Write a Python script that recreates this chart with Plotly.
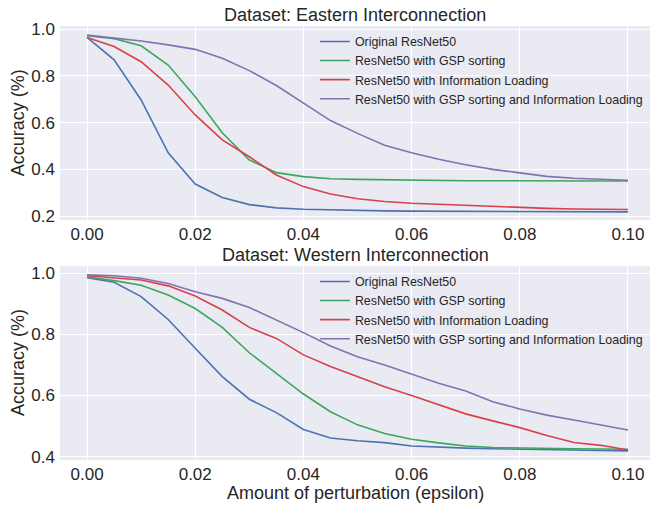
import plotly.graph_objects as go
from plotly.subplots import make_subplots

eps = [0.000, 0.005, 0.010, 0.015, 0.020, 0.025, 0.030, 0.035, 0.040, 0.045, 0.050,
       0.055, 0.060, 0.065, 0.070, 0.075, 0.080, 0.085, 0.090, 0.095, 0.100]

series_names = ["Original ResNet50", "ResNet50 with GSP sorting",
                "ResNet50 with Information Loading",
                "ResNet50 with GSP sorting and Information Loading"]

# Eastern Interconnection
east_original = [0.965, 0.869, 0.697, 0.471, 0.337, 0.279, 0.249, 0.235, 0.229, 0.226, 0.224,
                 0.222, 0.221, 0.221, 0.220, 0.220, 0.219, 0.219, 0.219, 0.218, 0.218]
east_gsp = [0.972, 0.960, 0.929, 0.847, 0.711, 0.557, 0.440, 0.386, 0.369, 0.360, 0.357,
            0.355, 0.353, 0.352, 0.351, 0.351, 0.350, 0.350, 0.350, 0.350, 0.350]
east_info = [0.965, 0.926, 0.861, 0.761, 0.633, 0.526, 0.454, 0.376, 0.326, 0.294, 0.274,
             0.262, 0.255, 0.250, 0.245, 0.240, 0.236, 0.233, 0.230, 0.229, 0.228]
east_both = [0.975, 0.963, 0.950, 0.933, 0.914, 0.876, 0.823, 0.759, 0.683, 0.609, 0.554,
             0.503, 0.471, 0.443, 0.420, 0.400, 0.385, 0.370, 0.362, 0.357, 0.353]

# Western Interconnection
west_original = [0.986, 0.971, 0.924, 0.849, 0.755, 0.662, 0.588, 0.544, 0.489, 0.461, 0.452,
                 0.446, 0.435, 0.431, 0.428, 0.426, 0.424, 0.422, 0.421, 0.420, 0.419]
west_gsp = [0.988, 0.976, 0.961, 0.929, 0.885, 0.823, 0.740, 0.673, 0.605, 0.547, 0.504,
            0.476, 0.457, 0.445, 0.435, 0.430, 0.428, 0.427, 0.426, 0.425, 0.424]
west_info = [0.992, 0.986, 0.978, 0.959, 0.926, 0.880, 0.823, 0.787, 0.733, 0.695, 0.662,
             0.629, 0.600, 0.569, 0.540, 0.517, 0.495, 0.469, 0.446, 0.437, 0.422]
west_both = [0.995, 0.992, 0.984, 0.967, 0.940, 0.918, 0.888, 0.847, 0.806, 0.762, 0.727,
             0.700, 0.671, 0.640, 0.615, 0.580, 0.556, 0.536, 0.520, 0.504, 0.487]

colors = ["#4C72B0", "#3DA65E", "#D8414A", "#8172B2"]

x_ticks = [0.00, 0.02, 0.04, 0.06, 0.08, 0.10]
east_y_ticks = [0.2, 0.4, 0.6, 0.8, 1.0]
west_y_ticks = [0.4, 0.6, 0.8, 1.0]

fig = make_subplots(rows=2, cols=1, vertical_spacing=0.106)

font_family = "Liberation Sans, Arial, sans-serif"
text_color = "#262626"

for i, (ys, name) in enumerate(zip([east_original, east_gsp, east_info, east_both], series_names)):
    fig.add_trace(go.Scatter(x=eps, y=ys, mode="lines", name=name,
                             line=dict(color=colors[i], width=1.6),
                             legend="legend"), row=1, col=1)
for i, (ys, name) in enumerate(zip([west_original, west_gsp, west_info, west_both], series_names)):
    fig.add_trace(go.Scatter(x=eps, y=ys, mode="lines", name=name,
                             line=dict(color=colors[i], width=1.6),
                             legend="legend2"), row=2, col=1)

axis_common = dict(showgrid=True, gridcolor="white", gridwidth=1.2, zeroline=False,
                   showline=False, ticks="", tickfont=dict(size=17, color=text_color,
                                                           family=font_family))

fig.update_xaxes(range=[-0.005, 0.10407], tickvals=x_ticks, tickformat=".2f",
                 ticklabelstandoff=2, **axis_common)
fig.update_yaxes(tickformat=".1f", ticklabelstandoff=4, **axis_common)
fig.update_yaxes(range=[0.183, 1.014], tickvals=east_y_ticks, row=1, col=1)
fig.update_yaxes(range=[0.389, 1.024], tickvals=west_y_ticks, row=2, col=1)

legend_common = dict(bgcolor="rgba(0,0,0,0)", borderwidth=0,
                     font=dict(size=12.4, color=text_color, family=font_family),
                     xanchor="left", yanchor="top", itemwidth=30, tracegroupgap=0)

fig.update_layout(
    width=650, height=506,
    margin=dict(l=60, r=0, t=26, b=46),
    paper_bgcolor="white", plot_bgcolor="#EAEAF2",
    font=dict(family=font_family, color=text_color),
    legend=dict(x=0.432, y=0.998, **legend_common),
    legend2=dict(x=0.432, y=0.445, **legend_common),
    annotations=[
        dict(text="Dataset: Eastern Interconnection", xref="paper", yref="paper",
             x=0.5, y=1.0, yshift=11, showarrow=False, xanchor="center", yanchor="middle",
             font=dict(size=18, color=text_color)),
        dict(text="Dataset: Western Interconnection", xref="paper", yref="paper",
             x=0.5, y=0.447, yshift=11, showarrow=False, xanchor="center", yanchor="middle",
             font=dict(size=18, color=text_color)),
        dict(text="Accuracy (%)", xref="paper", yref="paper", x=0, xshift=-42,
             y=0.776, textangle=-90, showarrow=False, xanchor="center", yanchor="middle",
             font=dict(size=18, color=text_color)),
        dict(text="Accuracy (%)", xref="paper", yref="paper", x=0, xshift=-42,
             y=0.2235, textangle=-90, showarrow=False, xanchor="center", yanchor="middle",
             font=dict(size=18, color=text_color)),
        dict(text="Amount of perturbation (epsilon)", xref="paper", yref="paper",
             x=0.5, y=0, yshift=-33, showarrow=False, xanchor="center", yanchor="middle",
             font=dict(size=18, color=text_color)),
    ],
)

fig.write_html("out.html", config={"displayModeBar": False},
               post_script="document.body.style.margin='0';document.body.style.overflow='hidden';")
